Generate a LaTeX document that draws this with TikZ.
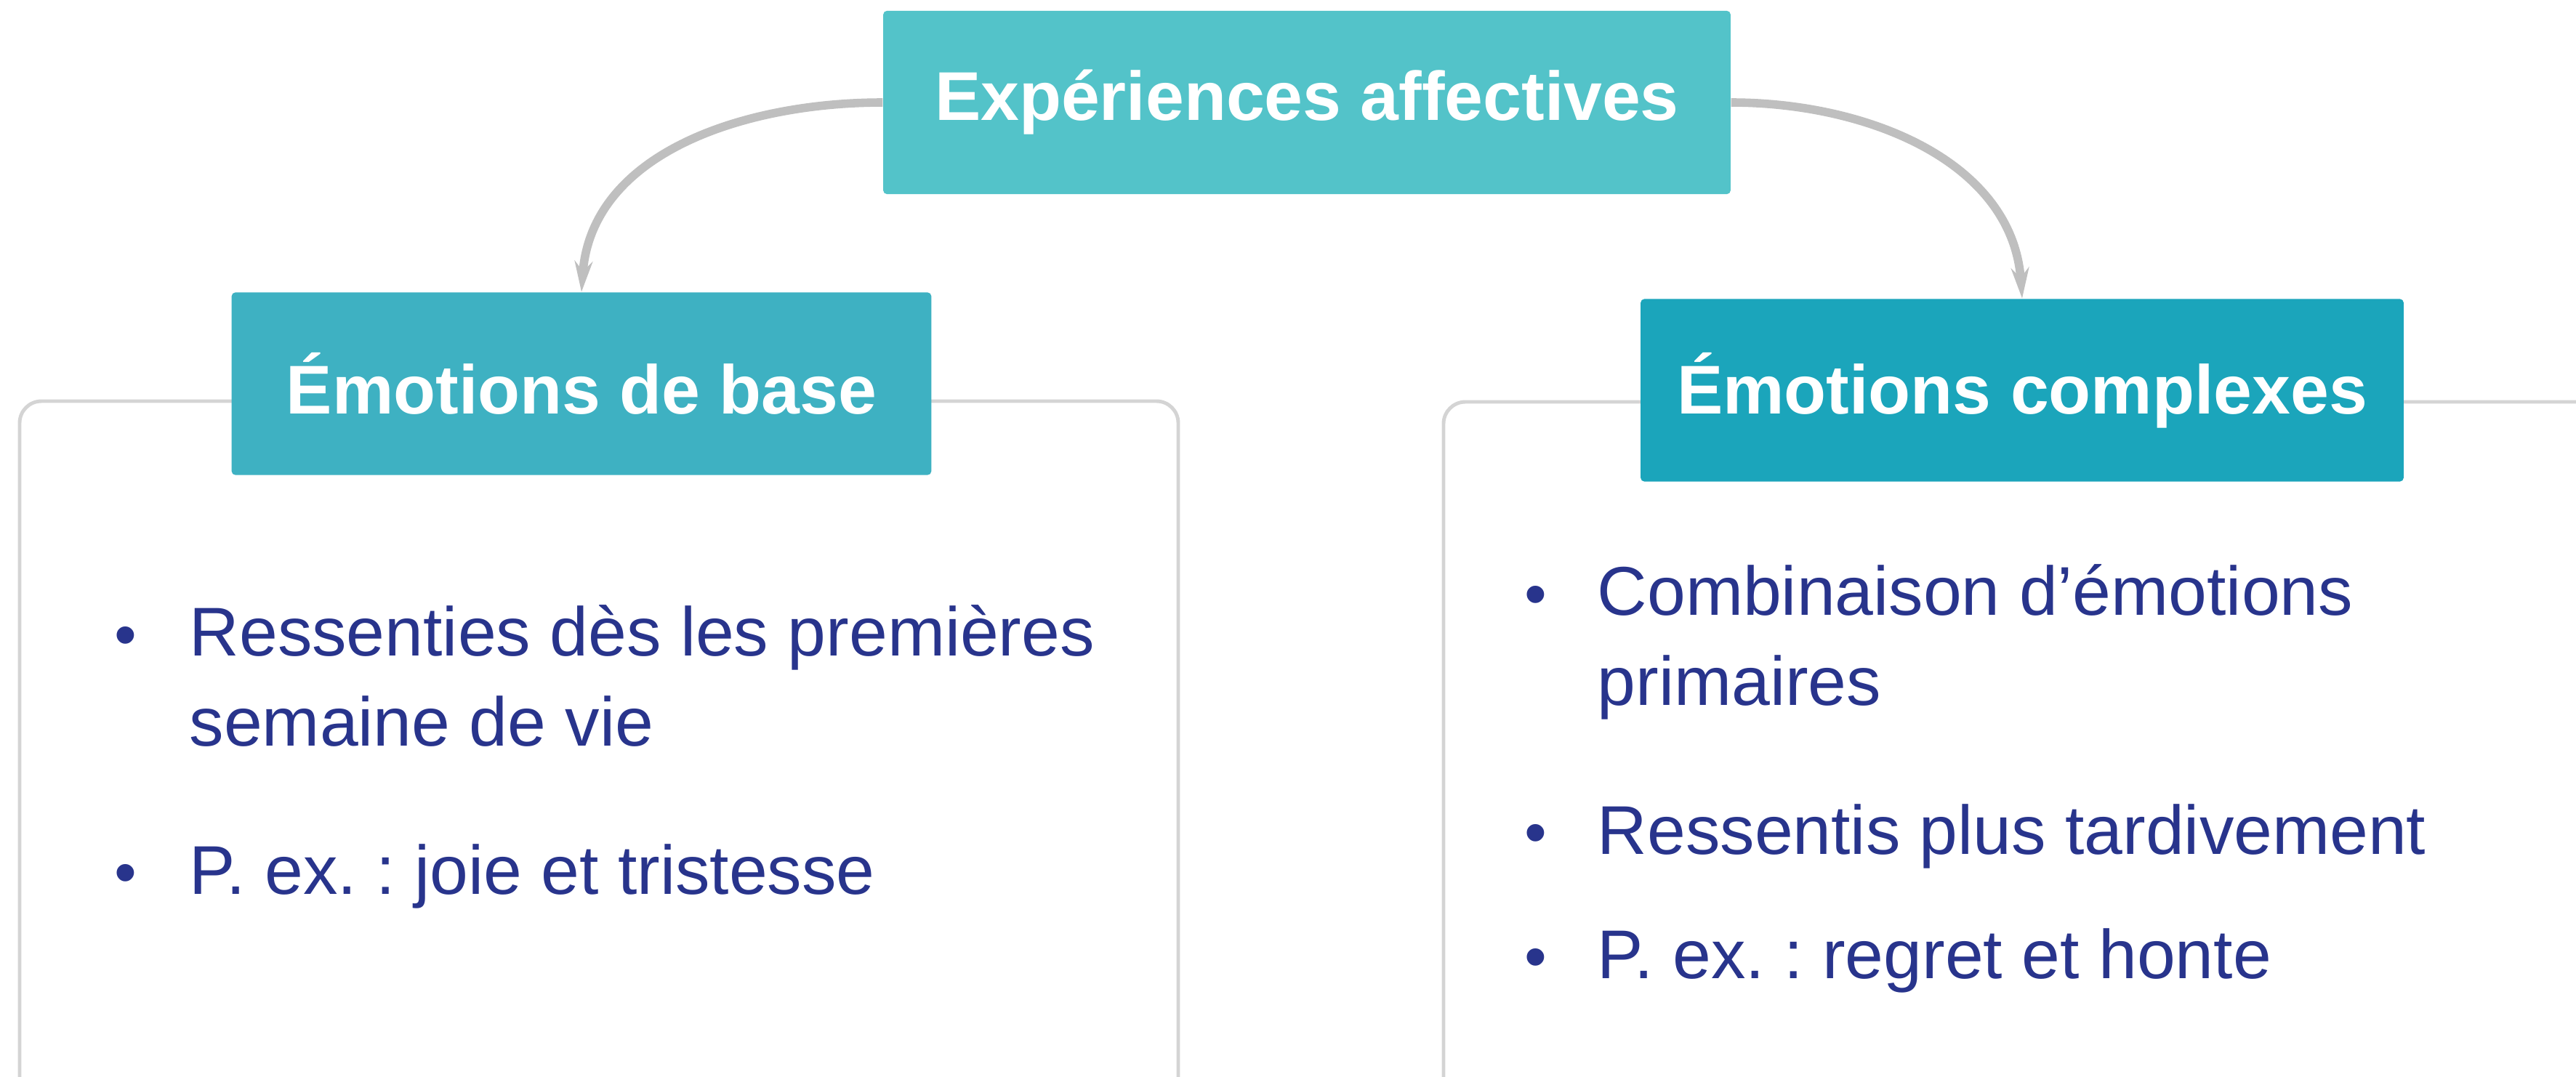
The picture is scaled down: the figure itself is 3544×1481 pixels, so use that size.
\documentclass[tikz,border=0pt]{standalone}
\usepackage{fontspec}
\setmainfont{Liberation Sans}
\usepackage{xcolor}
\usetikzlibrary{positioning,arrows.meta}

\definecolor{topcyan}{RGB}{83,195,201}
\definecolor{basecyan}{RGB}{62,177,194}
\definecolor{deepcyan}{RGB}{27,165,187}
\definecolor{inkblue}{RGB}{40,52,140}
\definecolor{linkgray}{RGB}{191,191,191}
\definecolor{framegray}{RGB}{212,212,212}

\tikzset{
  headbox/.style={rounded corners=0.05cm,text=white,font=\fontsize{27}{32}\selectfont\bfseries,inner sep=0pt},
  framebox/.style={draw=framegray,line width=1.4pt,rounded corners=0.3cm},
  itemtext/.style={text=inkblue,font=\fontsize{27}{35}\selectfont\frenchspacing,align=left,inner sep=0pt},
  dot/.style={text=inkblue,font=\fontsize{25}{35}\selectfont,inner sep=0pt},
  link/.style={draw=linkgray,line width=3.3pt,-{Stealth[length=12pt,width=7pt]}}
}

\begin{document}
\begin{tikzpicture}[x=0.01cm,y=-0.01cm]
\useasboundingbox (0,0) rectangle (3544,1481);
\begin{scope}
\clip (0,0) rectangle (3544,1481);
\draw[framebox] (27,552) rectangle (1621,1560);
\draw[framebox] (1986,553) rectangle (3640,1560);
\end{scope}

\node[headbox,fill=topcyan,minimum width=11.65cm,minimum height=2.52cm] (top) at (1798,141) {Expériences affectives};
\node[headbox,fill=basecyan,minimum width=9.62cm,minimum height=2.51cm] (base) at (800,528) {Émotions de base};
\node[headbox,fill=deepcyan,minimum width=10.49cm,minimum height=2.51cm] (complexe) at (2782,537) {Émotions complexes};

\draw[link] (top.west) to[out=180,in=86] (base.north);
\draw[link] (top.east) to[out=0,in=94] (complexe.north);

% emotions de base (base anchor = last line)
\node[dot,anchor=base] (d1) at (173,903) {•};
\node[itemtext,anchor=base west] (b1) at (260,1026) {Ressenties dès les premières\\semaine de vie};
\node[dot,anchor=base] (d2) at (173,1230) {•};
\node[itemtext,anchor=base west] (b2) at (260,1230) {P. ex. : joie et tristesse};

% emotions complexes
\node[dot,anchor=base] (d3) at (2113,847) {•};
\node[itemtext,anchor=base west] (c1) at (2197,970) {Combinaison d’émotions\\primaires};
\node[dot,anchor=base] (d4) at (2113,1175) {•};
\node[itemtext,anchor=base west] (c2) at (2197,1175) {Ressentis plus tardivement};
\node[dot,anchor=base] (d5) at (2113,1346) {•};
\node[itemtext,anchor=base west] (c3) at (2197,1346) {P. ex. : regret et honte};
\end{tikzpicture}
\end{document}
